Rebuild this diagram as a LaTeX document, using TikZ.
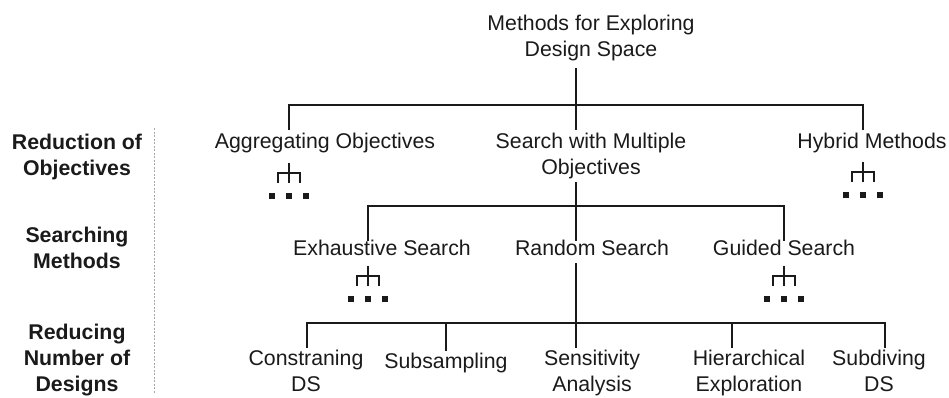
\documentclass[tikz,border=0pt]{standalone}
\usepackage{fontspec}
\setmainfont{Liberation Sans}
\definecolor{ink}{HTML}{1A1A1A}
\definecolor{guidegray}{HTML}{A8A8A8}
\begin{document}
\begin{tikzpicture}[x=1pt,y=-1pt,
  every node/.style={inner xsep=0pt, inner ysep=3pt, align=center, text=ink,
    font=\fontsize{21.3}{26}\selectfont},
  item/.style={anchor=north},
  tier/.style={anchor=north, font=\fontsize{21.3}{26}\selectfont\bfseries},
  link/.style={draw=ink, line width=2pt},
  guide/.style={draw=guidegray, line width=0.9pt, dash pattern=on 2pt off 1.5pt},
  fork/.pic={
    \draw[draw=ink, line width=1.8pt] (0,0) -- (0,20) (-11,20) |- (11,10) -- (11,20);
    \foreach \dx in {-17,0,17} \fill[ink] (\dx-3,30) rectangle (\dx+3,36);
  }]
\useasboundingbox (0,0) rectangle (949,397);

% tier labels and separator
\node[tier] (t1) at (77,131) {Reduction of\\Objectives};
\node[tier] (t2) at (77,224) {Searching\\Methods};
\node[tier] (t3) at (77,321) {Reducing\\Number of\\Designs};
\draw[guide] (154,128) -- (154,393);

% tree nodes
\node[item] (root) at (591,12) {Methods for Exploring\\Design Space};
\node[item] (agg) at (325,130) {Aggregating Objectives};
\node[item] (smo) at (591,130) {Search with Multiple\\Objectives};
\node[item] (hyb) at (872,130) {Hybrid Methods};
\node[item] (exh) at (382,237) {Exhaustive Search};
\node[item] (rnd) at (592,237) {Random Search};
\node[item] (gui) at (784,237) {Guided Search};
\node[item] (con) at (306,347) {Constraning\\DS};
\node[item] (sub) at (446,350) {Subsampling};
\node[item] (sen) at (592,347) {Sensitivity\\Analysis};
\node[item] (hie) at (749,347) {Hierarchical\\Exploration};
\node[item] (sdv) at (879,347) {Subdiving\\DS};

% junctions of the branches
\coordinate (j1) at (576,105);
\coordinate (j1a) at (289,105);
\coordinate (j1c) at (863,105);
\coordinate (j2) at (576,206);
\coordinate (j2a) at (368,206);
\coordinate (j2c) at (784,206);
\coordinate (j3) at (576,323);
\coordinate (j3a) at (307,323);
\coordinate (j3b) at (446,323);
\coordinate (j3d) at (732,323);
\coordinate (j3e) at (885,323);

% level 1
\draw[link] ([yshift=-4pt]root.south -| j1) -- (smo.north -| j1);
\draw[link] (agg.north -| j1a) |- (j1c) -- (hyb.north -| j1c);
% level 2
\draw[link] (smo.south -| j2) -- ([yshift=-4pt]rnd.north -| j2);
\draw[link] ([yshift=-4pt]exh.north -| j2a) |- (j2c) -- ([yshift=-4pt]gui.north -| j2c);
% level 3
\draw[link] ([yshift=-4pt]rnd.south -| j3) -- ([yshift=-1pt]sen.north -| j3);
\draw[link] ([yshift=-1pt]con.north -| j3a) |- (j3e) -- ([yshift=-1pt]sdv.north -| j3e);
\draw[link] ([yshift=-1pt]sub.north -| j3b) -- (j3b);
\draw[link] ([yshift=-1pt]hie.north -| j3d) -- (j3d);

% collapsed sub-branches
\pic at (289,163) {fork};
\pic at (863,162) {fork};
\pic at (368,266) {fork};
\pic at (784,266) {fork};
\end{tikzpicture}
\end{document}
